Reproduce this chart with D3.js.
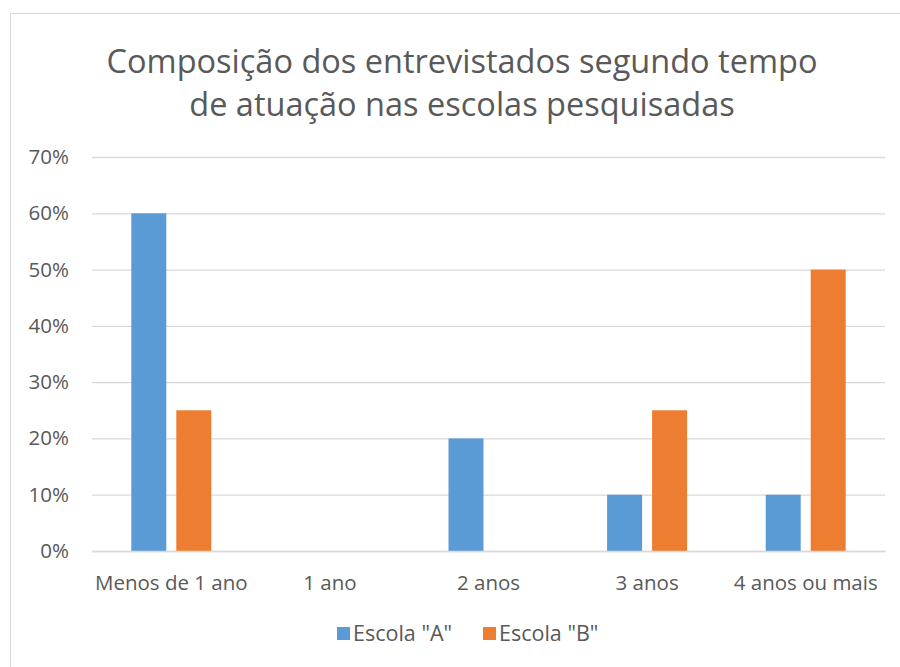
<!DOCTYPE html>
<html><head><meta charset="utf-8">
<script src="https://cdn.jsdelivr.net/npm/d3@7"></script>
<style>body{margin:0;background:#fff;} svg{display:block;}</style>
</head><body>
<svg id="c" width="900" height="667"></svg>
<script>
const categories = ["Menos de 1 ano", "1 ano", "2 anos", "3 anos", "4 anos ou mais"];
const seriesNames = ['Escola "A"', 'Escola "B"'];
const escolaA = [0.60, 0, 0.20, 0.10, 0.10];
const escolaB = [0.25, 0, 0, 0.25, 0.50];
const yTicks = [0, 0.1, 0.2, 0.3, 0.4, 0.5, 0.6, 0.7];
const colors = ["#5B9BD5", "#ED7D31"];
const titleLines = ["Composição dos entrevistados segundo tempo", "de atuação nas escolas pesquisadas"];

const font = "'Open Sans', sans-serif";
const textColor = "#595959";
const svg = d3.select("#c");
svg.append("rect").attr("x", 10.5).attr("y", 13.5).attr("width", 900).attr("height", 700)
  .attr("fill", "#fff").attr("stroke", "#D9D9D9");

const m = {left: 92, right: 885, top: 157, bottom: 551};
const x = d3.scaleBand().domain(categories).range([m.left, m.right]);
const y = d3.scaleLinear().domain([0, 0.7]).range([m.bottom, m.top]);

// title
svg.append("g").selectAll("text").data(titleLines).join("text")
  .attr("x", 462).attr("y", (d, i) => 73 + i * 43)
  .attr("text-anchor", "middle").attr("font-family", font).attr("font-size", 32.5)
  .attr("fill", textColor).text(d => d);

// gridlines
const yAxis = d3.axisLeft(y).tickValues(yTicks).tickFormat(d3.format(".0%"))
  .tickSize(-(m.right - m.left)).tickPadding(23);
const gy = svg.append("g").attr("transform", `translate(${m.left},0)`).call(yAxis);
gy.select(".domain").remove();
gy.selectAll(".tick line").attr("stroke", "#D9D9D9").attr("stroke-width", 1.3);
gy.selectAll(".tick text").attr("font-family", font).attr("font-size", 20.5).attr("fill", textColor);

// bars
const barW = 35, gap = 10;
const data = [];
categories.forEach((c, i) => {
  [escolaA, escolaB].forEach((s, j) => data.push({c, j, v: s[i]}));
});
svg.append("g").selectAll("rect").data(data.filter(d => d.v > 0)).join("rect")
  .attr("x", d => x(d.c) + x.bandwidth() / 2 + (d.j === 0 ? -gap / 2 - barW : gap / 2))
  .attr("y", d => y(d.v)).attr("width", barW).attr("height", d => y(0) - y(d.v))
  .attr("fill", d => colors[d.j]);

// x axis
const xAxis = d3.axisBottom(x).tickSize(0).tickPadding(24);
const gx = svg.append("g").attr("transform", `translate(0,${m.bottom})`).call(xAxis);
gx.select(".domain").attr("stroke", "#D9D9D9").attr("stroke-width", 1.3);
gx.selectAll(".tick text").attr("font-family", font).attr("font-size", 20.5).attr("fill", textColor);

// legend
const lg = svg.append("g");
const legX = [337, 483];
seriesNames.forEach((n, i) => {
  lg.append("rect").attr("x", legX[i]).attr("y", 627).attr("width", 13).attr("height", 13).attr("fill", colors[i]);
  lg.append("text").attr("x", legX[i] + 16).attr("y", 641).attr("font-family", font).attr("font-size", 21.5)
    .attr("fill", textColor).text(n);
});
</script>
</body></html>
